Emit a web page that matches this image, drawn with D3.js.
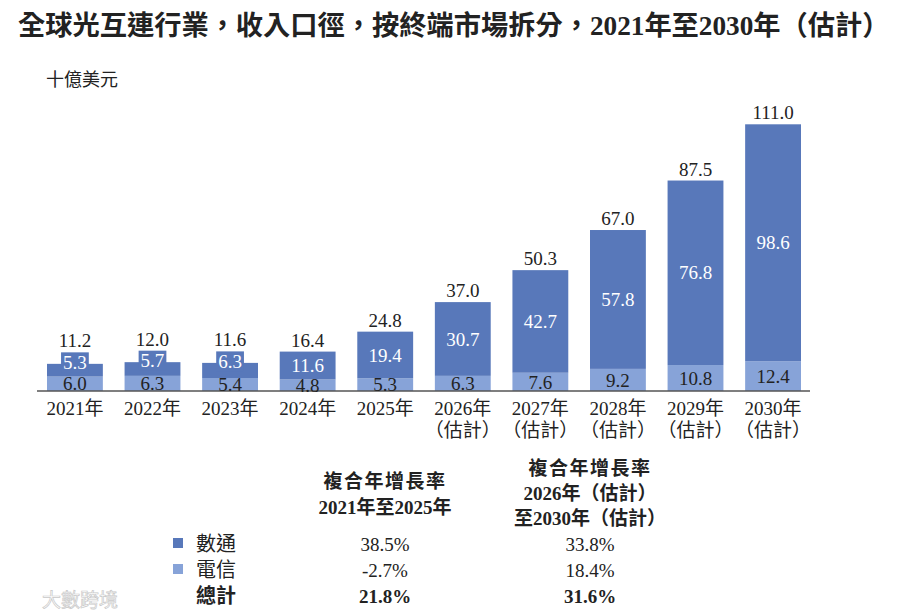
<!DOCTYPE html>
<html>
<head>
<meta charset="utf-8">
<script src="https://cdn.jsdelivr.net/npm/d3@7"></script>
<style>
  body { margin: 0; background: #fff; }
  text { font-family: "Liberation Serif", "Noto Sans CJK TC", serif; }
</style>
</head>
<body>
<div id="chart"></div>
<script>
// ---- data ----
var years = ["2021年", "2022年", "2023年", "2024年", "2025年", "2026年", "2027年", "2028年", "2029年", "2030年"];
var estimated = [false, false, false, false, false, true, true, true, true, true];
var telecom = [6.0, 6.3, 5.4, 4.8, 5.3, 6.3, 7.6, 9.2, 10.8, 12.4];
var datacom = [5.3, 5.7, 6.3, 11.6, 19.4, 30.7, 42.7, 57.8, 76.8, 98.6];
var totals = [11.2, 12.0, 11.6, 16.4, 24.8, 37.0, 50.3, 67.0, 87.5, 111.0];

var seriesNames = ["數通", "電信", "總計"];
var header2125 = ["複合年增長率", "2021年至2025年"];
var header2630 = ["複合年增長率", "2026年（估計）", "至2030年（估計）"];
var cagr2125 = ["38.5%", "-2.7%", "21.8%"];
var cagr2630 = ["33.8%", "18.4%", "31.6%"];

var titleText = "全球光互連行業，收入口徑，按終端市場拆分，2021年至2030年（估計）";
var unitText = "十億美元";

// ---- layout ----
var width = 900, height = 616;
var colorDatacom = "#5878ba";
var colorTelecom = "#87a3d8";
var textDark = "#222";

var svg = d3.select("#chart").append("svg")
    .attr("width", width)
    .attr("height", height);

var rows = years.map(function (y, i) {
    return { year: y, est: estimated[i], telecom: telecom[i], datacom: datacom[i], total: totals[i] };
});

var x = d3.scaleBand()
    .domain(years)
    .range([47, 801])
    .paddingInner(0.28)
    .paddingOuter(0);

var y = d3.scaleLinear()
    .domain([0, 111])
    .range([391, 124.3]);

var stack = d3.stack().keys(["telecom", "datacom"]);
var series = stack(rows);
var colors = { telecom: colorTelecom, datacom: colorDatacom };

// title
var title = svg.append("text")
    .attr("x", 18)
    .attr("y", 35)
    .attr("font-size", 26)
    .attr("font-weight", "bold")
    .attr("fill", textDark)
    .text(titleText);
// fit title to the width it takes in the picture
var tw = title.node().getComputedTextLength();
title.attr("font-size", 26 * 872 / tw);

svg.append("text")
    .attr("x", 46)
    .attr("y", 86)
    .attr("font-size", 18)
    .attr("fill", textDark)
    .text(unitText);

// bars
var layers = svg.append("g").selectAll("g")
    .data(series)
    .enter().append("g")
    .attr("fill", function (d) { return colors[d.key]; });

layers.selectAll("rect")
    .data(function (d) { return d; })
    .enter().append("rect")
    .attr("x", function (d) { return x(d.data.year); })
    .attr("y", function (d) { return y(d[1]); })
    .attr("width", x.bandwidth())
    .attr("height", function (d) { return y(d[0]) - y(d[1]); });

// axis line
svg.append("line")
    .attr("x1", 37).attr("x2", 810)
    .attr("y1", y(0)).attr("y2", y(0))
    .attr("stroke", "#555")
    .attr("stroke-width", 1.5);

// segment labels
var labelSize = 19;
var gLabels = svg.append("g");
var labelTops = [];

rows.forEach(function (d, i) {
    var cx = x(d.year) + x.bandwidth() / 2;

    // telecom (light) segment
    gLabels.append("text")
        .attr("x", cx)
        .attr("y", (y(0) + y(d.telecom)) / 2)
        .attr("dy", "0.35em")
        .attr("text-anchor", "middle")
        .attr("font-size", labelSize)
        .attr("fill", textDark)
        .text(d.telecom.toFixed(1));

    // datacom (dark) segment; small ones get a box that sticks out of the bar
    var segTop = y(d.telecom + d.datacom);
    var segBot = y(d.telecom);
    var small = (segBot - segTop) < 24;
    var cy = small ? segTop - 1.5 : (segTop + segBot) / 2;
    var g = gLabels.append("g");
    var t = g.append("text")
        .attr("x", cx)
        .attr("y", cy)
        .attr("dy", "0.35em")
        .attr("text-anchor", "middle")
        .attr("font-size", labelSize)
        .attr("fill", "#fff")
        .text(d.datacom.toFixed(1));
    if (small) {
        var bb = t.node().getBBox();
        g.insert("rect", "text")
            .attr("x", bb.x - 2)
            .attr("y", cy - 10)
            .attr("width", bb.width + 4)
            .attr("height", 20)
            .attr("fill", colorDatacom);
        labelTops.push(Math.min(segTop, cy - 10));
    } else {
        labelTops.push(segTop);
    }
});

// totals above bars
gLabels.selectAll(".total")
    .data(rows)
    .enter().append("text")
    .attr("class", "total")
    .attr("x", function (d) { return x(d.year) + x.bandwidth() / 2; })
    .attr("y", function (d, i) { return labelTops[i] - 5; })
    .attr("text-anchor", "middle")
    .attr("font-size", labelSize)
    .attr("fill", textDark)
    .text(function (d) { return d.total.toFixed(1); });

// x labels
var xl = svg.append("g").selectAll("text")
    .data(rows)
    .enter().append("text")
    .attr("x", function (d) { return x(d.year) + x.bandwidth() / 2; })
    .attr("y", 415)
    .attr("text-anchor", "middle")
    .attr("font-size", labelSize)
    .attr("fill", textDark);
xl.append("tspan").text(function (d) { return d.year; });
xl.filter(function (d) { return d.est; })
    .append("tspan")
    .attr("x", function (d) { return x(d.year) + x.bandwidth() / 2; })
    .attr("dy", 22)
    .text("（估計）");

// CAGR table
var col1 = 385, col2 = 590;
var gt = svg.append("g").attr("fill", textDark);

header2125.forEach(function (s, i) {
    gt.append("text")
        .attr("x", col1).attr("y", 488 + i * 26)
        .attr("text-anchor", "middle")
        .attr("font-size", 19)
        .attr("font-weight", "bold")
        .attr("letter-spacing", i === 0 ? 1.5 : 0)
        .text(s);
});
header2630.forEach(function (s, i) {
    gt.append("text")
        .attr("x", col2).attr("y", 475 + i * 25)
        .attr("text-anchor", "middle")
        .attr("font-size", 19)
        .attr("font-weight", "bold")
        .attr("letter-spacing", i === 0 ? 1.5 : 0)
        .text(s);
});

var legendColors = [colorDatacom, colorTelecom, null];
seriesNames.forEach(function (name, i) {
    var ry = 551 + i * 26;
    if (legendColors[i]) {
        gt.append("rect")
            .attr("x", 173).attr("y", ry - 13)
            .attr("width", 10).attr("height", 10)
            .attr("fill", legendColors[i]);
    }
    gt.append("text")
        .attr("x", 196).attr("y", ry)
        .attr("font-size", 20)
        .attr("font-weight", i === 2 ? "bold" : "normal")
        .text(name);
    gt.append("text")
        .attr("x", col1).attr("y", ry)
        .attr("text-anchor", "middle")
        .attr("font-size", 19)
        .attr("font-weight", i === 2 ? "bold" : "normal")
        .text(cagr2125[i]);
    gt.append("text")
        .attr("x", col2).attr("y", ry)
        .attr("text-anchor", "middle")
        .attr("font-size", 19)
        .attr("font-weight", i === 2 ? "bold" : "normal")
        .text(cagr2630[i]);
});

// watermark
svg.append("text")
    .attr("x", 42).attr("y", 607)
    .attr("font-size", 19)
    .attr("fill", "#fff")
    .attr("stroke", "#c8c8c8")
    .attr("stroke-width", 0.7)
    .attr("font-family", "Noto Sans CJK TC")
    .text("大數跨境");
</script>
</body>
</html>
